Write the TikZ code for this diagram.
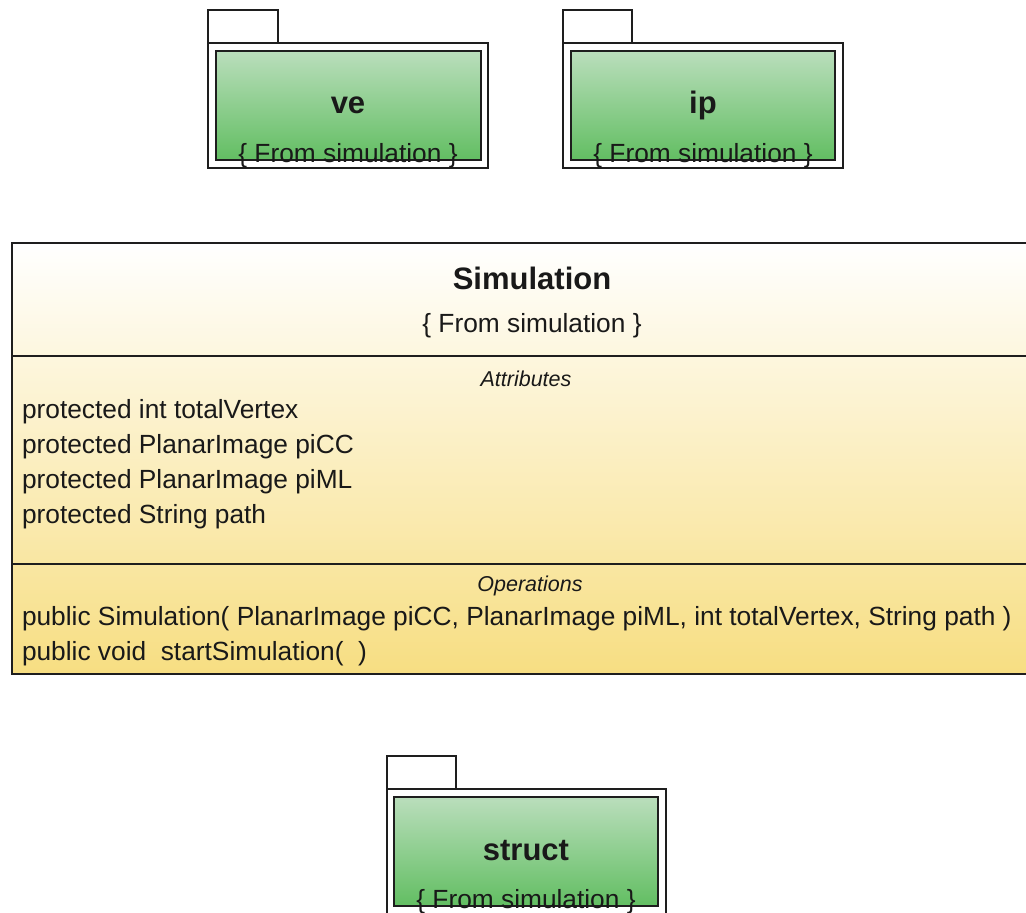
\documentclass[tikz,border=0pt]{standalone}
\usepackage{fontspec}
\setmainfont{Liberation Sans}
\definecolor{linec}{RGB}{30,30,30}
\definecolor{textc}{RGB}{25,25,25}
\definecolor{pkgtop}{RGB}{186,222,188}
\definecolor{pkgbot}{RGB}{98,190,98}
\definecolor{classbot}{RGB}{247,222,130}
\tikzset{
  shapebox/.style={draw=linec, line width=1.6pt, inner sep=0pt, outer sep=0pt, anchor=north west},
  tabbox/.style={shapebox, fill=white},
  pkgouter/.style={shapebox, fill=white},
  pkginner/.style={shapebox, top color=pkgtop, bottom color=pkgbot},
  classbox/.style={shapebox, top color=white, bottom color=classbot},
  sepline/.style={draw=linec, line width=1.6pt},
  txt/.style={inner sep=0pt, outer sep=0pt, text=textc, font=\fontsize{26.3}{30}\selectfont},
  pkgname/.style={inner sep=0pt, outer sep=0pt, text=textc, font=\bfseries\fontsize{31}{36}\selectfont, anchor=base},
  fromtxt/.style={txt, anchor=base},
  comptitle/.style={inner sep=0pt, outer sep=0pt, text=textc, font=\itshape\fontsize{21.5}{25}\selectfont, anchor=base},
  member/.style={txt, anchor=base west},
}
\begin{document}
\begin{tikzpicture}[x=1pt, y=-1pt]
\useasboundingbox (0,0) rectangle (1026,913);
\clip (0,0) rectangle (1026,913);
\fill[white] (0,0) rectangle (1026,913);

% ---- package ve ----
\node[tabbox, minimum width=70pt, minimum height=33pt] (vetab) at (208,10) {};
\node[pkgouter, minimum width=280pt, minimum height=125pt] (veout) at (208,43) {};
\node[pkginner, minimum width=265pt, minimum height=109pt] (vein) at (216,51) {};
\node[pkgname] (vename) at (348,113) {ve};
\node[fromtxt] (vefrom) at (348,162) {\{ From simulation \}};

% ---- package ip ----
\node[tabbox, minimum width=69pt, minimum height=33pt] (iptab) at (563,10) {};
\node[pkgouter, minimum width=280pt, minimum height=125pt] (ipout) at (563,43) {};
\node[pkginner, minimum width=264pt, minimum height=109pt] (ipin) at (571,51) {};
\node[pkgname] (ipname) at (703,113) {ip};
\node[fromtxt] (ipfrom) at (703,162) {\{ From simulation \}};

% ---- class Simulation ----
\node[classbox, minimum width=1040pt, minimum height=431pt] (sim) at (12,243) {};
\coordinate (s1l) at (12,356);
\coordinate (s1r) at (1052,356);
\coordinate (s2l) at (12,564);
\coordinate (s2r) at (1052,564);
\draw[sepline] (s1l) -- (s1r);
\draw[sepline] (s2l) -- (s2r);
\node[pkgname] (simname) at (532,289) {Simulation};
\node[fromtxt] (simfrom) at (532,332) {\{ From simulation \}};
\node[comptitle] (attrt) at (526,386) {Attributes};
\node[member] (a1) at (22,418) {protected int totalVertex};
\node[member] (a2) at (22,453) {protected PlanarImage piCC};
\node[member] (a3) at (22,488) {protected PlanarImage piML};
\node[member] (a4) at (22,523) {protected String path};
\node[comptitle] (opt) at (530,591) {Operations};
\node[member] (o1) at (22,625) {public Simulation( PlanarImage piCC, PlanarImage piML, int totalVertex, String path )};
\node[member] (o2) at (22,660) {public void\ \ startSimulation(\ \ )};

% ---- package struct ----
\node[tabbox, minimum width=69pt, minimum height=33pt] (sttab) at (387,756) {};
\node[pkgouter, minimum width=279pt, minimum height=125pt] (stout) at (387,789) {};
\node[pkginner, minimum width=264pt, minimum height=109pt] (stin) at (394,797) {};
\node[pkgname] (stname) at (526,860) {struct};
\node[fromtxt] (stfrom) at (526,908) {\{ From simulation \}};
\end{tikzpicture}
\end{document}
